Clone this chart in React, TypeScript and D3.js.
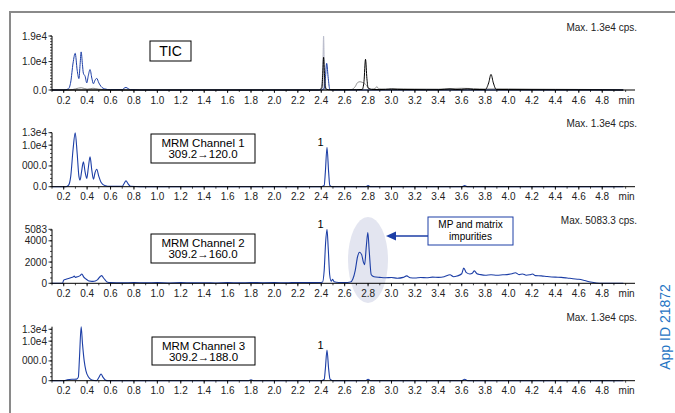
import React from 'react';
import * as d3 from 'd3';

// retention time (min), intensity (cps)
const ticBlue: [number, number][] = [
  [0.1, 0], [0.2, 0], [0.24, 400], [0.26, 2800], [0.28, 9500], [0.298, 12900], [0.315, 7000],
  [0.33, 4000], [0.34, 9000], [0.349, 13400], [0.36, 9000], [0.368, 5900], [0.383, 4800],
  [0.397, 2500], [0.41, 5000], [0.425, 7200], [0.44, 4200], [0.454, 2200], [0.467, 3400],
  [0.482, 4100], [0.5, 2500], [0.52, 1200], [0.55, 400], [0.6, 100], [0.7, 100], [0.715, 600],
  [0.732, 900], [0.75, 500], [0.77, 100], [0.85, 0], [2.4, 0], [2.425, 500], [2.435, 4000],
  [2.446, 9400], [2.46, 4000], [2.472, 400], [2.49, 0], [4.98, 0],
];
const ticBlack: [number, number][] = [
  [0.1, 0], [2.38, 0], [2.405, 800], [2.412, 5000], [2.42, 11500], [2.428, 5000], [2.436, 600],
  [2.46, 100], [2.7, 100], [2.75, 200], [2.765, 3000], [2.778, 10800], [2.79, 4000], [2.8, 800],
  [2.83, 200], [2.9, 150], [3.0, 300], [3.05, 200], [3.2, 150], [3.3, 100], [3.4, 120], [3.5, 350],
  [3.55, 150], [3.6, 250], [3.65, 400], [3.7, 200], [3.8, 150], [3.83, 2500], [3.85, 5500],
  [3.87, 2500], [3.895, 200], [4.0, 150], [4.2, 120], [4.4, 100], [4.6, 80], [4.8, 50], [4.98, 0],
];
const ticGray: [number, number][] = [
  [0.1, 0], [0.25, 0], [0.3, 400], [0.35, 800], [0.4, 300], [0.45, 600], [0.5, 300], [0.6, 0],
  [2.6, 0], [2.66, 200], [2.69, 1200], [2.71, 2600], [2.73, 2900], [2.75, 2700], [2.77, 2200],
  [2.79, 1500], [2.8, 600], [2.83, 300], [2.86, 500], [2.875, 1200], [2.89, 400], [2.95, 300],
  [3.0, 500], [3.1, 400], [3.2, 350], [3.4, 300], [3.5, 500], [3.6, 600], [3.7, 500], [3.8, 350],
  [4.0, 400], [4.2, 300], [4.4, 250], [4.6, 200], [4.8, 150], [4.98, 0],
];
const ticLight: [number, number][] = [
  [2.39, 0], [2.405, 2000], [2.413, 9000], [2.42, 19000], [2.427, 9000], [2.435, 2000], [2.45, 0],
];
const ch1: [number, number][] = [
  [0.1, 0], [0.22, 0], [0.24, 300], [0.26, 2500], [0.28, 9000], [0.298, 13000], [0.315, 8000],
  [0.33, 2500], [0.34, 1600], [0.352, 3500], [0.368, 6000], [0.383, 3500], [0.397, 2000],
  [0.41, 4500], [0.425, 7200], [0.44, 4000], [0.454, 1800], [0.467, 3300], [0.482, 4200],
  [0.5, 2500], [0.52, 1000], [0.55, 300], [0.6, 80], [0.7, 100], [0.715, 700], [0.732, 1400],
  [0.75, 700], [0.77, 100], [0.85, 0], [2.4, 0], [2.425, 300], [2.435, 3500], [2.449, 9500],
  [2.463, 3500], [2.473, 300], [2.49, 0], [2.78, 0], [2.8, 250], [2.82, 0], [3.6, 0],
  [3.625, 250], [3.65, 0], [4.98, 0],
];
const ch2: [number, number][] = [
  [0.1, 0], [0.19, 0], [0.2, 300], [0.22, 380], [0.24, 450], [0.26, 520], [0.28, 600], [0.29, 680],
  [0.3, 560], [0.32, 620], [0.34, 720], [0.355, 880], [0.37, 600], [0.39, 400], [0.41, 250],
  [0.43, 200], [0.45, 180], [0.47, 220], [0.49, 350], [0.51, 620], [0.525, 720], [0.54, 500],
  [0.555, 300], [0.57, 120], [0.6, 60], [0.7, 40], [0.8, 70], [0.9, 40], [1.0, 60], [1.1, 30],
  [1.2, 60], [1.3, 40], [1.4, 50], [1.5, 30], [1.6, 60], [1.7, 40], [1.8, 70], [1.9, 50],
  [2.0, 60], [2.1, 40], [2.2, 80], [2.3, 60], [2.38, 70], [2.41, 100], [2.425, 1200],
  [2.437, 3800], [2.449, 5083], [2.46, 3200], [2.472, 800], [2.485, 200], [2.497, 380],
  [2.51, 150], [2.55, 80], [2.6, 70], [2.65, 120], [2.67, 400], [2.69, 1200], [2.71, 2500],
  [2.727, 2920], [2.745, 2700], [2.76, 2000], [2.77, 1750], [2.785, 3500], [2.798, 4770],
  [2.81, 3000], [2.827, 800], [2.85, 620], [2.9, 560], [2.95, 520], [3.0, 540], [3.05, 480],
  [3.1, 560], [3.13, 700], [3.16, 520], [3.2, 500], [3.25, 540], [3.3, 520], [3.35, 580],
  [3.4, 560], [3.45, 620], [3.5, 800], [3.53, 620], [3.56, 680], [3.6, 900], [3.617, 1430],
  [3.64, 1000], [3.67, 880], [3.69, 950], [3.708, 1170], [3.73, 900], [3.76, 820], [3.8, 760],
  [3.85, 800], [3.9, 760], [3.95, 800], [4.0, 840], [4.03, 900], [4.058, 1000], [4.09, 820],
  [4.12, 880], [4.15, 760], [4.18, 800], [4.205, 880], [4.23, 720], [4.28, 700], [4.33, 640],
  [4.4, 580], [4.45, 560], [4.5, 500], [4.55, 430], [4.6, 380], [4.65, 260], [4.7, 120],
  [4.75, 30], [4.8, 0], [4.98, 0],
];
const ch3: [number, number][] = [
  [0.1, 0], [0.2, 0], [0.23, 200], [0.27, 350], [0.31, 400], [0.325, 900], [0.335, 6000],
  [0.349, 13650], [0.36, 9500], [0.375, 5000], [0.39, 2500], [0.41, 1000], [0.44, 200],
  [0.48, 0], [0.5, 800], [0.519, 1700], [0.535, 900], [0.555, 200], [0.58, 0], [1.78, 0],
  [1.8, 200], [1.82, 0], [2.4, 0], [2.425, 300], [2.435, 3000], [2.449, 7750], [2.463, 3000],
  [2.475, 400], [2.5, 0], [2.78, 0], [2.8, 350], [2.82, 0], [3.6, 0], [3.625, 350], [3.65, 0],
  [4.98, 0],
];

const xTickValues = [0.2, 0.4, 0.6, 0.8, 1.0, 1.2, 1.4, 1.6, 1.8, 2.0, 2.2, 2.4, 2.6, 2.8, 3.0, 3.2, 3.4, 3.6, 3.8, 4.0, 4.2, 4.4, 4.6, 4.8];
const panelTitles = [['TIC'], ['MRM Channel 1', '309.2→120.0'], ['MRM Channel 2', '309.2→160.0'], ['MRM Channel 3', '309.2→188.0']];
const maxLabels = ['Max. 1.3e4 cps.', 'Max. 1.3e4 cps.', 'Max. 5083.3 cps.', 'Max. 1.3e4 cps.'];
const yMax = [19000, 13000, 5083, 13650];
const yTickValues = [[0, 10000, 19000], [0, 5000, 10000, 13000], [0, 2000, 4000, 5083], [0, 5000, 10000, 13000]];
const yTickLabels = [['0.0', '1.0e4', '1.9e4'], ['0.0', '000.0', '1.0e4', '1.3e4'], ['0', '2000', '4000', '5083'], ['0', '000.0', '1.0e4', '1.3e4']];
const yMinorStep = [1000, 1000, 500, 1000];

const FONT = '"Liberation Sans", Arial, Helvetica, sans-serif';
const BLUE = '#1c3ea6';
const baselines = [90, 186.7, 283.3, 380.7];
const plotH = 54;
const boxes = [
  { x: 150, y: 41, w: 41, h: 20 },
  { x: 151, y: 134, w: 104, h: 29 },
  { x: 151, y: 234, w: 104, h: 29 },
  { x: 152, y: 337, w: 103, h: 28 },
];

const x = d3.scaleLinear().domain([0.1, 5.08]).range([52, 635]);
const minorX = d3.range(0.1, 5.05, 0.1);

function Panel({ i, children, peakLabel }: { i: number; children?: any; peakLabel?: [number, number][] }) {
  const base = baselines[i];
  const y = d3.scaleLinear().domain([0, yMax[i]]).range([base, base - plotH]);
  const minorY = d3.range(0, yMax[i] + 1, yMinorStep[i]);
  const b = boxes[i];
  const title = panelTitles[i];
  let lab = null;
  if (peakLabel) {
    const pk = peakLabel.filter(d => d[0] > 2.3 && d[0] < 2.6).reduce((a, c) => (c[1] > a[1] ? c : a));
    lab = (
      <text x={x(pk[0]) - 6.5} y={y(pk[1]) - 1} fontSize={11} textAnchor="middle" fill="#000">1</text>
    );
  }
  return (
    <g>
      {children && children(y)}
      {/* x axis */}
      <line x1={x(0.1)} x2={x(5.08)} y1={base} y2={base} stroke="#000" strokeWidth={1} />
      {minorX.map((t, k) => (
        <line key={'mx' + k} x1={x(t)} x2={x(t)} y1={base} y2={base + 2} stroke="#000" strokeWidth={0.7} />
      ))}
      {xTickValues.map(t => (
        <g key={'xt' + t}>
          <line x1={x(t)} x2={x(t)} y1={base} y2={base + 3} stroke="#000" strokeWidth={0.8} />
          <text x={x(t)} y={base + 13.5} fontSize={10} textAnchor="middle" fill="#222">{t.toFixed(1)}</text>
        </g>
      ))}
      <text x={x(5.0) + 1} y={base + 13.5} fontSize={10} textAnchor="middle" fill="#222">min</text>
      {/* y axis */}
      <line x1={x(0.1)} x2={x(0.1)} y1={base} y2={base - plotH} stroke="#000" strokeWidth={1} />
      {minorY.map((v, k) => (
        <line key={'my' + k} x1={x(0.1) - 2} x2={x(0.1)} y1={y(v)} y2={y(v)} stroke="#000" strokeWidth={0.7} />
      ))}
      {yTickValues[i].map((v, k) => (
        <g key={'yt' + k}>
          <line x1={x(0.1) - 3.5} x2={x(0.1)} y1={y(v)} y2={y(v)} stroke="#000" strokeWidth={0.8} />
          <text x={47} y={y(v) + 3.5} fontSize={10} textAnchor="end" fill="#222">{yTickLabels[i][k]}</text>
        </g>
      ))}
      <text x={637} y={base - 59.5} fontSize={10} textAnchor="end" fill="#222">{maxLabels[i]}</text>
      <rect x={b.x} y={b.y} width={b.w} height={b.h} fill="#fff" stroke="#000" strokeWidth={1} />
      {title.length === 1 ? (
        <text x={b.x + b.w / 2} y={b.y + b.h / 2 + 5} fontSize={14} textAnchor="middle" fill="#000">{title[0]}</text>
      ) : (
        <>
          <text x={b.x + b.w / 2} y={b.y + 13} fontSize={11.5} textAnchor="middle" fill="#000">{title[0]}</text>
          <text x={b.x + b.w / 2} y={b.y + 24} fontSize={11.5} textAnchor="middle" fill="#000">{title[1]}</text>
        </>
      )}
      {lab}
    </g>
  );
}

function trace(y: d3.ScaleLinear<number, number>, data: [number, number][], color: string, width = 1, key = '') {
  const line = d3.line<[number, number]>().x(d => x(d[0])).y(d => y(d[1])).curve(d3.curveMonotoneX);
  return <path key={key} d={line(data) || ''} fill="none" stroke={color} strokeWidth={width} strokeLinejoin="round" />;
}

export default function App() {
  const lightArea = (y: d3.ScaleLinear<number, number>) =>
    d3.area<[number, number]>().x(d => x(d[0])).y0(y(0)).y1(d => y(d[1])).curve(d3.curveMonotoneX)(ticLight) || '';
  return (
    <svg width={675} height={413} style={{ position: 'absolute', left: 0, top: 0, fontFamily: FONT, background: '#fff' }}>
      <rect x={0} y={0} width={675} height={413} fill="#fff" />
      <line x1={10} x2={675} y1={12} y2={12} stroke="#8a8a8a" strokeWidth={2} />
      <line x1={10} x2={10} y1={11} y2={413} stroke="#8a8a8a" strokeWidth={2} />

      <Panel i={0}>
        {(y: any) => (
          <g>
            <path d={lightArea(y)} fill="#cfd0dc" stroke="#b4b6c6" strokeWidth={0.8} />
            {trace(y, ticGray, '#8c8c8c', 1, 'g')}
            {trace(y, ticBlue, BLUE, 1, 'b')}
            {trace(y, ticBlack, '#000', 1, 'k')}
          </g>
        )}
      </Panel>
      <Panel i={1} peakLabel={ch1}>
        {(y: any) => trace(y, ch1, BLUE, 1.1, 'c1')}
      </Panel>
      <Panel i={2} peakLabel={ch2}>
        {(y: any) => (
          <g>
            <ellipse cx={368} cy={260} rx={20} ry={43} fill="#e3e5f0" />
            {trace(y, ch2, BLUE, 1.1, 'c2')}
          </g>
        )}
      </Panel>
      <Panel i={3} peakLabel={ch3}>
        {(y: any) => trace(y, ch3, BLUE, 1.1, 'c3')}
      </Panel>

      {/* annotation */}
      <line x1={428} x2={394} y1={236} y2={236} stroke={BLUE} strokeWidth={1.5} />
      <path d="M386,236 L396,231.5 L396,240.5 Z" fill={BLUE} />
      <rect x={428} y={217} width={85} height={28} fill="#fff" stroke={BLUE} strokeWidth={1} />
      <text x={470.5} y={228} fontSize={10} textAnchor="middle" fill="#000">MP and matrix</text>
      <text x={470.5} y={239.5} fontSize={10} textAnchor="middle" fill="#000">impurities</text>

      <text transform="translate(670,327) rotate(-90)" fontSize={14} textAnchor="middle" fill="#1f74c4">App ID 21872</text>
    </svg>
  );
}
